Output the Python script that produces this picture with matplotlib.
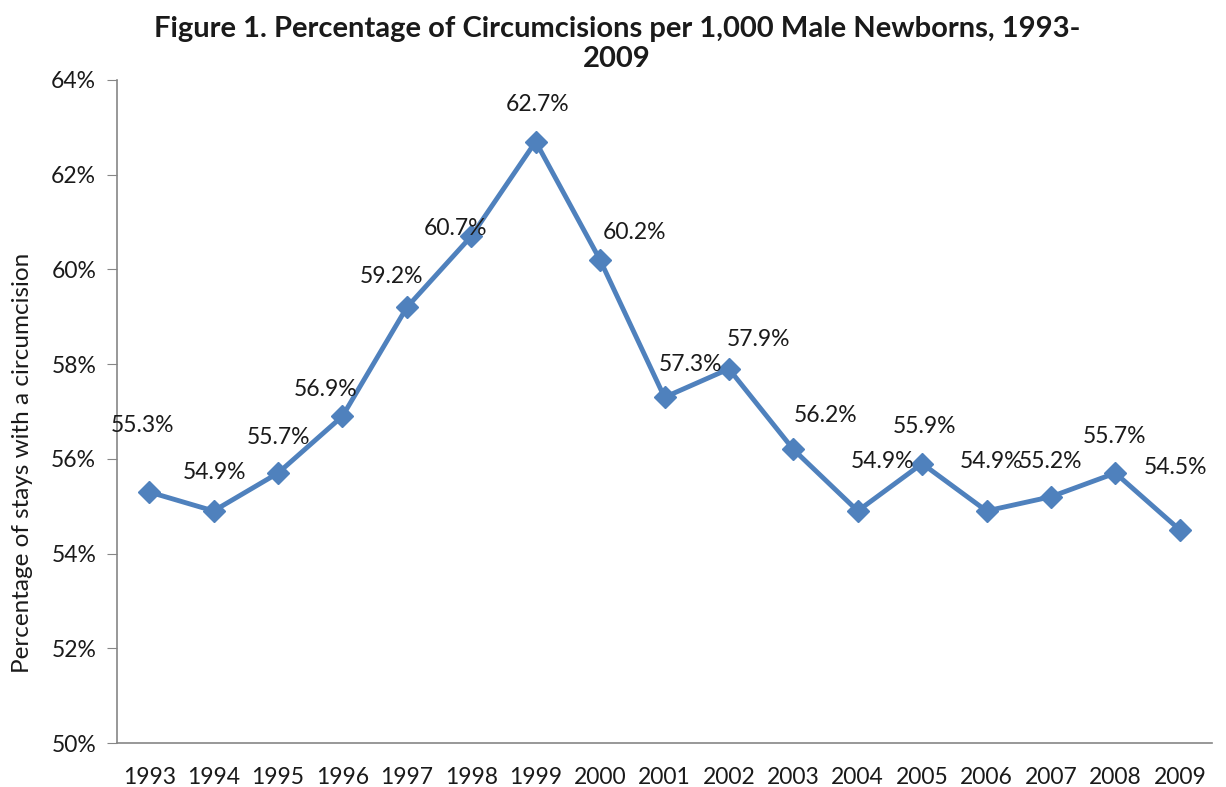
import matplotlib
matplotlib.use("Agg")
import matplotlib.pyplot as plt
from matplotlib.ticker import FuncFormatter

years = ["1993", "1994", "1995", "1996", "1997", "1998", "1999", "2000", "2001",
         "2002", "2003", "2004", "2005", "2006", "2007", "2008", "2009"]
values = [55.3, 54.9, 55.7, 56.9, 59.2, 60.7, 62.7, 60.2, 57.3,
          57.9, 56.2, 54.9, 55.9, 54.9, 55.2, 55.7, 54.5]
labels = ["55.3%", "54.9%", "55.7%", "56.9%", "59.2%", "60.7%", "62.7%", "60.2%", "57.3%",
          "57.9%", "56.2%", "54.9%", "55.9%", "54.9%", "55.2%", "55.7%", "54.5%"]
# label offsets in pixels (dx, dy) relative to point
label_dx = [-7, 1, 1, -17, -15, -16, 2, 34, 26, 30, 32, 25, 2, 5, 0, -1, -4]
label_dy = [67, 38, 36, 27, 31, 8, 37, 27, 33, 29, 34, 49, 37, 49, 35, 37, 62]

plt.rcParams['font.family'] = ['Lato', 'DejaVu Sans']

W, H = 1226, 787
fig = plt.figure(figsize=(W / 100, H / 100), dpi=100)
ax = fig.add_axes([117 / W, (H - 743) / H, (1212 - 117) / W, (743 - 80) / H])

color = "#4F81BD"
x = list(range(len(years)))
ax.plot(x, values, color=color, lw=3.5, marker="D", markersize=11, zorder=3)

for xi, v, lab, dx, dy in zip(x, values, labels, label_dx, label_dy):
    ax.annotate(lab, (xi, v), xytext=(dx * 0.72, dy * 0.72), textcoords="offset points",
                ha="center", va="center", fontsize=16.5, color="#1a1a1a")

ax.set_xlim(-0.5, len(years) - 0.5)
ax.set_ylim(50, 64)
ax.set_yticks([50, 52, 54, 56, 58, 60, 62, 64])
ax.yaxis.set_major_formatter(FuncFormatter(lambda v, p: f"{int(v)}%"))
ax.set_xticks(x)
ax.set_xticklabels(years)

for s in ["top", "right"]:
    ax.spines[s].set_visible(False)
for s in ["left", "bottom"]:
    ax.spines[s].set_color("#868686")
    ax.spines[s].set_linewidth(1.2)

ax.tick_params(axis="y", direction="out", length=7, color="#868686", labelsize=16.5,
               labelcolor="#1a1a1a", pad=8)
ax.tick_params(axis="x", length=0, labelsize=16.5, labelcolor="#1a1a1a", pad=17)

ax.set_ylabel("Percentage of stays with a circumcision", fontsize=17.5, color="#1a1a1a")
ax.yaxis.set_label_coords(-84 / (1212 - 117), (743 - 463) / (743 - 80))

fig.text(617 / W, 1 - 44 / H,
         "Figure 1. Percentage of Circumcisions per 1,000 Male Newborns, 1993-\n2009",
         ha="center", va="center", fontsize=21, fontweight="bold", color="#1a1a1a",
         linespacing=1.2)

fig.savefig("out.png", dpi=100)
